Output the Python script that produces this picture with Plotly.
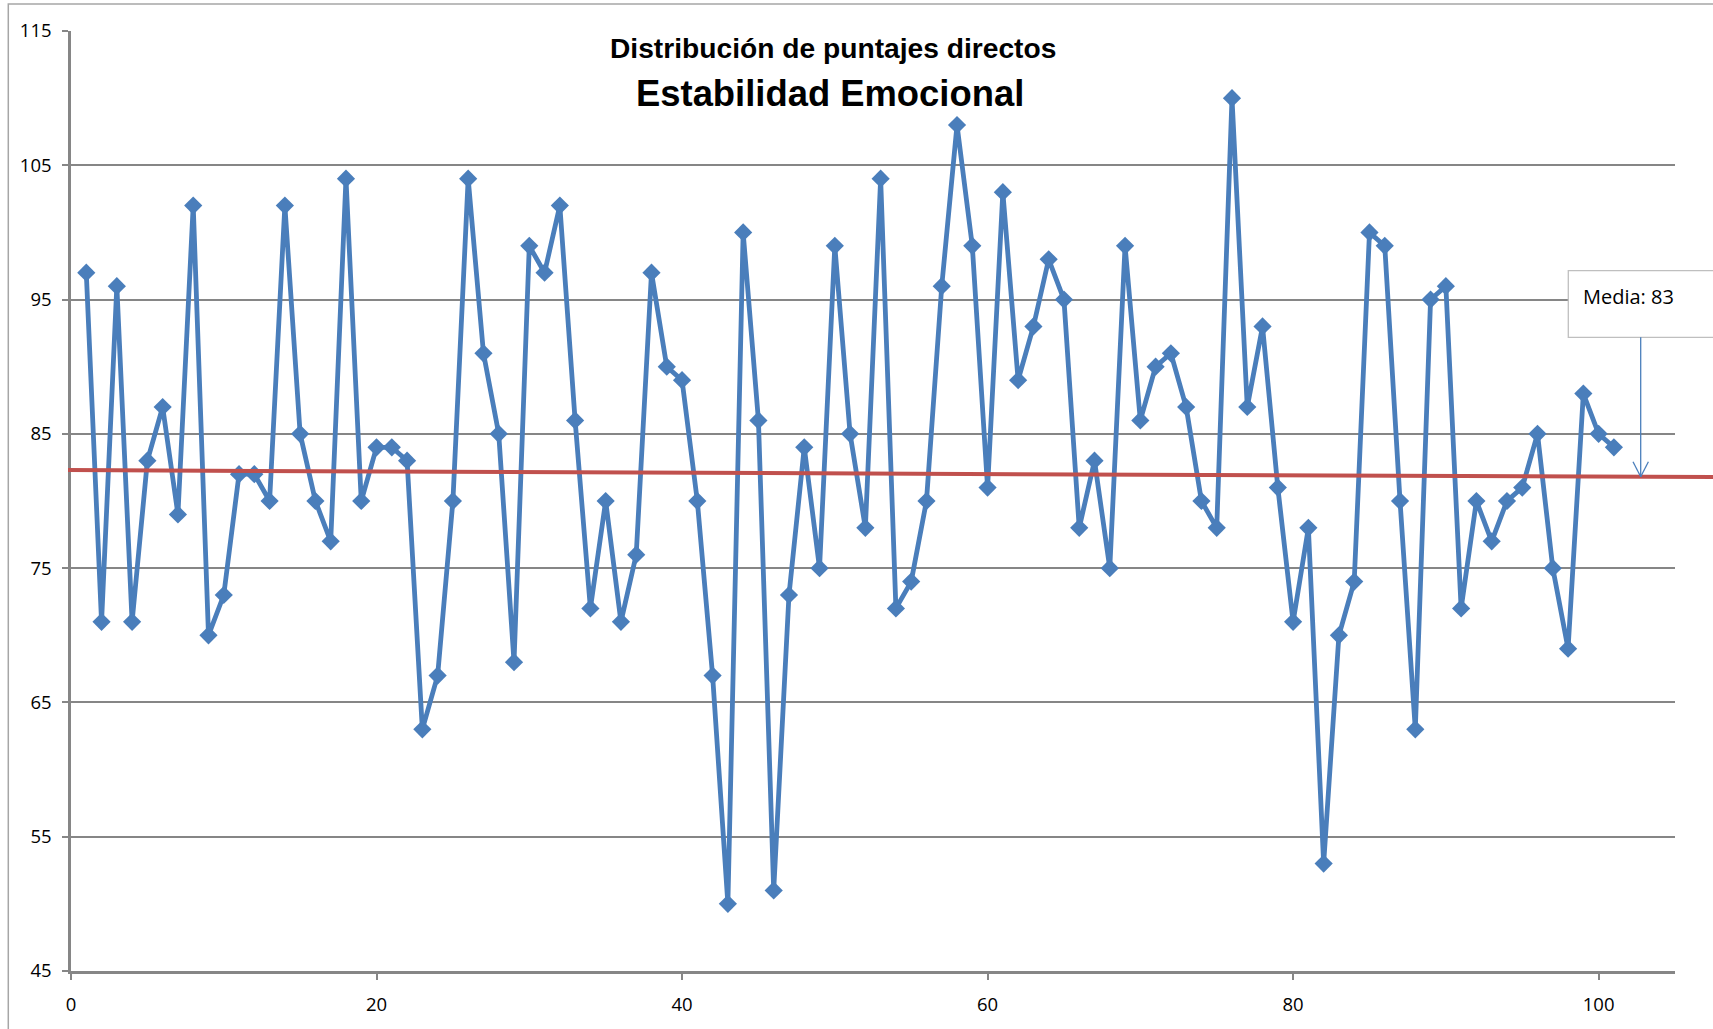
import plotly.graph_objects as go

# ---- data ----
sujetos = list(range(1, 102))
puntajes = [97, 71, 96, 71, 83, 87, 79, 102, 70, 73,
            82, 82, 80, 102, 85, 80, 77, 104, 80, 84,
            84, 83, 63, 67, 80, 104, 91, 85, 68, 99,
            97, 102, 86, 72, 80, 71, 76, 97, 90, 89,
            80, 67, 50, 100, 86, 51, 73, 84, 75, 99,
            85, 78, 104, 72, 74, 80, 96, 108, 99, 81,
            103, 89, 93, 98, 95, 78, 83, 75, 99, 86,
            90, 91, 87, 80, 78, 110, 87, 93, 81, 71,
            78, 53, 70, 74, 100, 99, 80, 63, 95, 96,
            72, 80, 77, 80, 81, 85, 75, 69, 88, 85,
            84]
media_line_y = [82.3, 81.78]          # red reference line (start, end)
media_label = "Media: 83"
titulo_1 = "Distribución de puntajes directos"
titulo_2 = "Estabilidad Emocional"
x_ticks = [0, 20, 40, 60, 80, 100]
y_ticks = [45, 55, 65, 75, 85, 95, 105, 115]

W, H = 1713, 1029
L, R, T, B = 71, 38, 31, 58
pw, ph = W - L - R, H - T - B

def px(xp):
    return (xp - L) / pw

def py(yp):
    return (H - B - yp) / ph

BLUE = "#4a7ebb"
GRID = "#868686"

fig = go.Figure()
fig.add_trace(go.Scatter(
    x=sujetos, y=puntajes, mode="lines+markers",
    line=dict(color=BLUE, width=4.8),
    marker=dict(symbol="diamond", size=14, color=BLUE),
    showlegend=False, cliponaxis=False,
))

shapes = [
    # outer chart frame
    dict(type="rect", xref="paper", yref="paper", x0=px(8.3), x1=1.2, y0=-0.2, y1=py(4),
         line=dict(color="#a6a6a6", width=1.5), fillcolor="rgba(0,0,0,0)", layer="below"),
    # red media line
    dict(type="line", xref="paper", yref="y", x0=px(68), x1=px(W + 2),
         y0=media_line_y[0], y1=media_line_y[1],
         line=dict(color="#c0504d", width=4), layer="above"),
    # label box
    dict(type="rect", xref="paper", yref="paper", x0=px(1568.3), x1=px(W + 20),
         y0=py(337.3), y1=py(270.7),
         line=dict(color="#bfbfbf", width=1.3), fillcolor="white", layer="above"),
    # arrow shaft
    dict(type="line", xref="paper", yref="paper", x0=px(1640.7), x1=px(1640.7),
         y0=py(337.3), y1=py(476.7), line=dict(color=BLUE, width=1.3), layer="above"),
    # arrow head
    dict(type="line", xref="paper", yref="paper", x0=px(1633), x1=px(1640.7),
         y0=py(461.7), y1=py(476.7), line=dict(color=BLUE, width=1.3), layer="above"),
    dict(type="line", xref="paper", yref="paper", x0=px(1648.4), x1=px(1640.7),
         y0=py(461.7), y1=py(476.7), line=dict(color=BLUE, width=1.3), layer="above"),
]

annotations = [
    dict(text="<b>" + titulo_1 + "</b>", xref="paper", yref="paper",
         x=px(833), y=py(48), xanchor="center", yanchor="middle", showarrow=False,
         font=dict(family="Liberation Sans, Arial", size=28.2, color="black")),
    dict(text="<b>" + titulo_2 + "</b>", xref="paper", yref="paper",
         x=px(829.5), y=py(93), xanchor="center", yanchor="middle", showarrow=False,
         font=dict(family="Liberation Sans, Arial", size=36.4, color="black")),
    dict(text=media_label, xref="paper", yref="paper",
         x=px(1581), y=py(296), xanchor="left", yanchor="middle", showarrow=False,
         font=dict(family="Open Sans, Calibri, sans-serif", size=20, color="black")),
]

fig.update_layout(
    width=W, height=H, autosize=False,
    margin=dict(l=L, r=R, t=T, b=B, pad=0),
    paper_bgcolor="white", plot_bgcolor="white",
    shapes=shapes, annotations=annotations,
    font=dict(family="Open Sans, Calibri, sans-serif", size=18, color="black"),
    xaxis=dict(range=[0, 105], tickvals=x_ticks, showgrid=False, zeroline=False,
               showline=True, linecolor=GRID, linewidth=2.5,
               ticks="outside", ticklen=6, tickwidth=1.5, tickcolor=GRID,
               ticklabelstandoff=9, tickfont=dict(size=18.5)),
    yaxis=dict(range=[45, 115], tickvals=y_ticks, showgrid=True, gridcolor=GRID, gridwidth=1.5,
               zeroline=False, showline=True, linecolor=GRID, linewidth=2.5,
               ticks="outside", ticklen=6, tickwidth=1.5, tickcolor=GRID,
               ticklabelstandoff=7, tickfont=dict(size=18.5)),
)

fig.write_html("out.html", config={"displayModeBar": False},
               post_script="document.body.style.margin='0px';")
